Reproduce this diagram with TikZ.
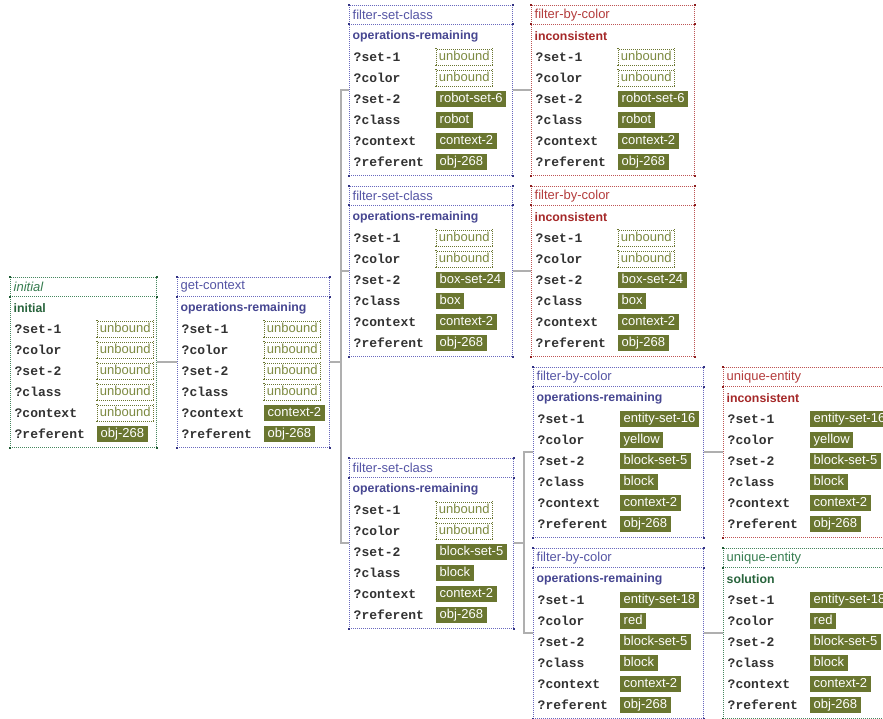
\documentclass[tikz,border=0pt]{standalone}
\usepackage{fontspec}
\setmainfont{Liberation Sans}
\newfontfamily\monof{Liberation Mono}
\definecolor{bluF}{RGB}{105,105,190}
\definecolor{bluD}{RGB}{50,50,130}
\definecolor{bluT}{RGB}{85,85,165}
\definecolor{bluS}{RGB}{70,70,145}
\definecolor{redF}{RGB}{190,85,85}
\definecolor{redD}{RGB}{140,30,30}
\definecolor{redT}{RGB}{180,60,60}
\definecolor{redS}{RGB}{165,40,40}
\definecolor{grnF}{RGB}{70,135,95}
\definecolor{grnD}{RGB}{30,90,50}
\definecolor{grnT}{RGB}{55,125,80}
\definecolor{grnS}{RGB}{40,100,60}
\definecolor{valfill}{RGB}{106,118,48}
\definecolor{ubtext}{RGB}{125,138,65}
\definecolor{connc}{RGB}{175,175,175}
\definecolor{varc}{RGB}{50,50,50}
\tikzset{
 frm/.style={draw=#1F, dash pattern=on 1pt off 1pt, line width=0.9pt, inner sep=0pt, anchor=north west, minimum height=170pt, fill=white},
 hline/.style={draw=#1F, dash pattern=on 1pt off 1pt, line width=0.9pt},
 hdr/.style={anchor=west, inner sep=0pt, text=#1T, font=\fontsize{13}{15}\selectfont},
 stat/.style={anchor=west, inner sep=0pt, text=#1S, font=\fontsize{12.3}{14}\selectfont\bfseries},
 varn/.style={anchor=west, inner sep=0pt, text=varc, font=\fontsize{13}{15}\monof\bfseries},
 fv/.style={anchor=west, fill=valfill, text=white, inner xsep=3.5pt, inner ysep=1.75pt, text height=9.5pt, text depth=3pt, font=\fontsize{13}{15}\selectfont},
 ub/.style={fv, inner xsep=2.5pt, fill=white, text=ubtext, draw=valfill, dash pattern=on 1pt off 1pt, line width=0.9pt},
 conn/.style={draw=connc, line width=2pt},
}
\def\unb{unbound}
\newcommand\statebox[7]{%
 \node[frm=#5, minimum width=#4pt] (#1) at (#2pt,-#3pt) {};
 \coordinate (#1-hl) at ([yshift=-19.5pt]#1.north west);
 \coordinate (#1-hr) at ([yshift=-19.5pt]#1.north east);
 \draw[hline=#5] (#1-hl) -- (#1-hr);
 \foreach \a in {#1.north west,#1.north east,#1.south west,#1.south east,#1-hl,#1-hr}
   \fill[#5D] (\a) ++(-1pt,-1pt) rectangle ++(2pt,2pt);
 \node[hdr=#5] (#1-h) at ([xshift=3.5pt,yshift=-10pt]#1.north west) {#6};
 \node[stat=#5] (#1-s) at ([xshift=3.5pt,yshift=-31pt]#1.north west) {#7};
 \foreach \vn [count=\i] in {?set-1,?color,?set-2,?class,?context,?referent}
   \node[varn] (#1-n\i) at ([xshift=4.5pt,yshift={-52pt-21pt*(\i-1)}]#1.north west) {\vn};
}
\newcommand\vals[7]{%
 \foreach \vv [count=\i] in {#2,#3,#4,#5,#6,#7} {
  \edef\tmp{\vv}%
  \ifx\tmp\unb
    \node[ub] (#1-v\i) at ([xshift=87pt,yshift={-52pt-21pt*(\i-1)}]#1.north west) {\vv};
    \foreach \a in {north west,north east,south west,south east}
      \fill[valfill] (#1-v\i.\a) ++(-0.9pt,-0.9pt) rectangle ++(1.8pt,1.8pt);
  \else
    \node[fv] (#1-v\i) at ([xshift=87pt,yshift={-52pt-21pt*(\i-1)}]#1.north west) {\vv};
  \fi
 }
}
\begin{document}
\begin{tikzpicture}
\useasboundingbox (0pt,0pt) rectangle (883pt,-719pt);
\clip (0pt,0pt) rectangle (883pt,-719pt);
\statebox{b1}{10}{277}{146}{grn}{\itshape initial}{initial}
\vals{b1}{unbound}{unbound}{unbound}{unbound}{unbound}{obj-268}
\statebox{b2}{177}{277}{152}{blu}{get-context}{operations-remaining}
\vals{b2}{unbound}{unbound}{unbound}{unbound}{context-2}{obj-268}
\statebox{b3}{349}{5}{163}{blu}{filter-set-class}{operations-remaining}
\vals{b3}{unbound}{unbound}{robot-set-6}{robot}{context-2}{obj-268}
\statebox{b4}{531}{5}{163}{red}{filter-by-color}{inconsistent}
\vals{b4}{unbound}{unbound}{robot-set-6}{robot}{context-2}{obj-268}
\statebox{b5}{349}{186}{163}{blu}{filter-set-class}{operations-remaining}
\vals{b5}{unbound}{unbound}{box-set-24}{box}{context-2}{obj-268}
\statebox{b6}{531}{186}{163}{red}{filter-by-color}{inconsistent}
\vals{b6}{unbound}{unbound}{box-set-24}{box}{context-2}{obj-268}
\statebox{b7}{349}{458}{164}{blu}{filter-set-class}{operations-remaining}
\vals{b7}{unbound}{unbound}{block-set-5}{block}{context-2}{obj-268}
\statebox{b8}{533}{367}{170}{blu}{filter-by-color}{operations-remaining}
\vals{b8}{entity-set-16}{yellow}{block-set-5}{block}{context-2}{obj-268}
\statebox{b9}{533}{548}{170}{blu}{filter-by-color}{operations-remaining}
\vals{b9}{entity-set-18}{red}{block-set-5}{block}{context-2}{obj-268}
\statebox{b10}{723}{367}{170}{red}{unique-entity}{inconsistent}
\vals{b10}{entity-set-16}{yellow}{block-set-5}{block}{context-2}{obj-268}
\statebox{b11}{723}{548}{170}{grn}{unique-entity}{solution}
\vals{b11}{entity-set-18}{red}{block-set-5}{block}{context-2}{obj-268}
\coordinate (j2) at ([xshift=11pt]b2.east);
\coordinate (j7) at ([xshift=10pt]b7.east);
\draw[conn] (b1.east) -- (b2.west);
\draw[conn] (b2.east) -- (j2) |- (b3.west);
\draw[conn] (j2) |- (b5.west);
\draw[conn] (j2) |- (b7.west);
\draw[conn] (b3.east) -- (b4.west);
\draw[conn] (b5.east) -- (b6.west);
\draw[conn] (b7.east) -- (j7) |- (b8.west);
\draw[conn] (j7) |- (b9.west);
\draw[conn] (b8.east) -- (b10.west);
\draw[conn] (b9.east) -- (b11.west);
\end{tikzpicture}
\end{document}
